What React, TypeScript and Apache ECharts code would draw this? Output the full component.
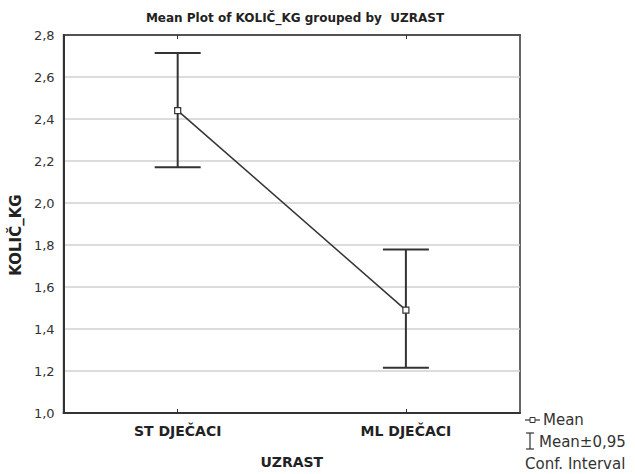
import React, { useEffect, useRef } from "react";
import * as echarts from "echarts";

const categories = ["ST DJEČACI", "ML DJEČACI"];
const means = [2.44, 1.49];
const ciLow = [2.17, 1.215];
const ciHigh = [2.714, 1.778];
const yTicks = { min: 1.0, max: 2.8, interval: 0.2 };

export default function App() {
  const ref = useRef<HTMLDivElement>(null);
  useEffect(() => {
    if (!ref.current) return;
    const chart = echarts.init(ref.current, null, { renderer: "svg" });
    const font = "'DejaVu Sans', 'Liberation Sans', Arial, sans-serif";
    const dark = "#333333";
    chart.setOption({
      animation: false,
      backgroundColor: "#ffffff",
      title: {
        text: "Mean Plot of KOLIČ_KG grouped by  UZRAST",
        left: 290,
        textAlign: "center",
        top: 7,
        textStyle: { fontFamily: font, fontSize: 12, fontWeight: "bold", color: "#222" },
      },
      grid: {
        left: 62,
        right: 115,
        top: 35,
        bottom: 61,
        show: true,
        borderColor: dark,
        borderWidth: 1.5,
      },
      xAxis: [
        {
          type: "category",
          data: categories,
          position: "bottom",
          axisLine: { lineStyle: { color: dark, width: 2 } },
          axisTick: { show: true, inside: true, alignWithLabel: true, length: 4, lineStyle: { color: dark } },
          axisLabel: {
            fontFamily: font,
            fontSize: 14,
            fontWeight: "bold",
            color: "#222",
            margin: 11,
          },
          name: "UZRAST",
          nameLocation: "middle",
          nameGap: 42,
          nameTextStyle: { fontFamily: font, fontSize: 14, fontWeight: "bold", color: "#222" },
          splitLine: { show: false },
        },
        {
          type: "category",
          data: categories,
          position: "top",
          axisLine: { lineStyle: { color: dark, width: 1.5 } },
          axisTick: { show: true, inside: true, alignWithLabel: true, length: 4, lineStyle: { color: dark } },
          axisLabel: { show: false },
          splitLine: { show: false },
        },
      ],
      yAxis: {
        type: "value",
        min: yTicks.min,
        max: yTicks.max,
        interval: yTicks.interval,
        axisLine: { show: true, lineStyle: { color: dark, width: 2 } },
        axisTick: { show: false },
        axisLabel: {
          fontFamily: font,
          fontSize: 13,
          color: "#333",
          margin: 9,
          formatter: (v: number) => v.toFixed(1).replace(".", ","),
        },
        splitLine: { show: true, lineStyle: { color: "#d0d0d0", width: 1.5 } },
        name: "KOLIČ_KG",
        nameLocation: "middle",
        nameGap: 36,
        nameRotate: 90,
        nameTextStyle: {
          fontFamily: font,
          fontSize: 15,
          fontWeight: "bold",
          color: "#222",
          padding: [0, 22, 0, 0],
        },
      },
      series: [
        {
          type: "custom",
          xAxisIndex: 0,
          data: categories.map((_, i) => [i, ciLow[i], ciHigh[i]]),
          renderItem: (params: any, api: any) => {
            const lo = api.coord([api.value(0), api.value(1)]);
            const hi = api.coord([api.value(0), api.value(2)]);
            const hw = 23;
            const st = { stroke: dark, lineWidth: 2 };
            return {
              type: "group",
              children: [
                { type: "line", shape: { x1: lo[0], y1: lo[1], x2: hi[0], y2: hi[1] }, style: st },
                { type: "line", shape: { x1: lo[0] - hw, y1: lo[1], x2: lo[0] + hw, y2: lo[1] }, style: st },
                { type: "line", shape: { x1: hi[0] - hw, y1: hi[1], x2: hi[0] + hw, y2: hi[1] }, style: st },
              ],
            };
          },
          z: 2,
        },
        {
          type: "line",
          xAxisIndex: 0,
          data: means,
          symbol: "rect",
          symbolSize: 6,
          lineStyle: { color: dark, width: 1.5 },
          itemStyle: { color: "#ffffff", borderColor: dark, borderWidth: 1.2 },
          z: 3,
        },
      ],
      graphic: [
        { type: "line", shape: { x1: 525, y1: 420, x2: 540, y2: 420 }, style: { stroke: dark, lineWidth: 1.2 } },
        { type: "rect", shape: { x: 530, y: 417.5, width: 5, height: 5 }, style: { fill: "#fff", stroke: dark, lineWidth: 1 } },
        { type: "text", x: 543, y: 420, style: { text: "Mean", font: `15px ${font}`, fill: "#333", textVerticalAlign: "middle" } },
        { type: "line", shape: { x1: 530, y1: 433, x2: 530, y2: 449 }, style: { stroke: dark, lineWidth: 1.2 } },
        { type: "line", shape: { x1: 526, y1: 433, x2: 534, y2: 433 }, style: { stroke: dark, lineWidth: 1.2 } },
        { type: "line", shape: { x1: 526, y1: 449, x2: 534, y2: 449 }, style: { stroke: dark, lineWidth: 1.2 } },
        { type: "text", x: 539, y: 442, style: { text: "Mean±0,95", font: `15px ${font}`, fill: "#333", textVerticalAlign: "middle" } },
        { type: "text", x: 525, y: 464, style: { text: "Conf. Interval", font: `15px ${font}`, fill: "#333", textVerticalAlign: "middle" } },
      ],
    });
    return () => chart.dispose();
  }, []);
  return <div ref={ref} style={{ width: 635, height: 474, position: "absolute", left: 0, top: 0 }} />;
}
